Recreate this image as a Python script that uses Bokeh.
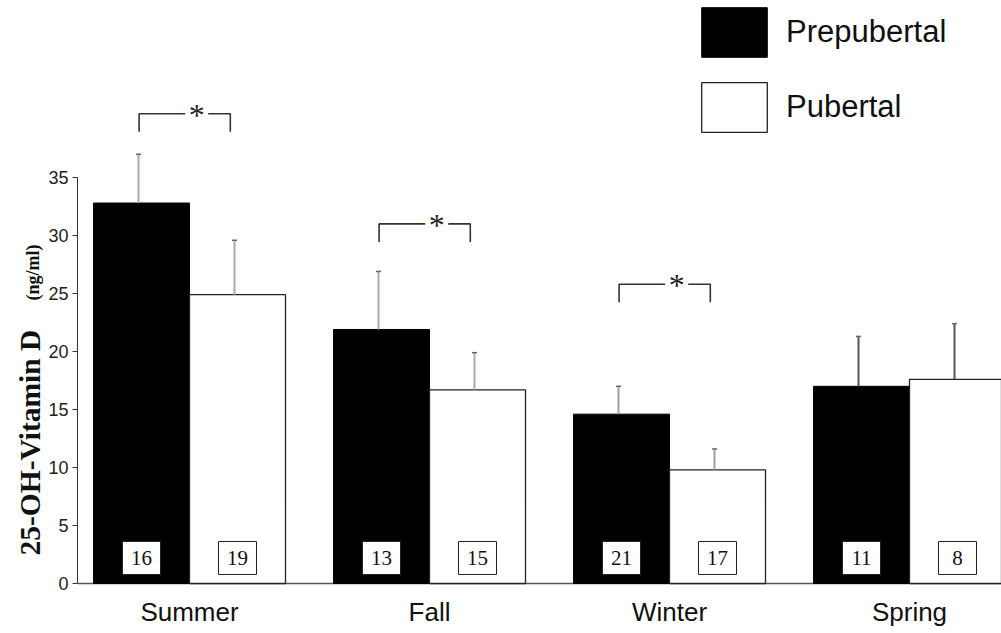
import math
from bokeh.plotting import figure
from bokeh.models import Range1d, FixedTicker, Legend, LegendItem, ColumnDataSource
from bokeh.embed import file_html
from bokeh.resources import INLINE
from bokeh.core.properties import value

# ---------------- data ----------------
seasons = ["Summer", "Fall", "Winter", "Spring"]
prepubertal_mean = [32.8, 21.9, 14.6, 17.0]
prepubertal_err = [4.2, 5.0, 2.4, 4.3]
pubertal_mean = [24.9, 16.7, 9.8, 17.6]
pubertal_err = [4.7, 3.2, 1.8, 4.8]
prepubertal_n = [16, 13, 21, 11]
pubertal_n = [19, 15, 17, 8]
sig_groups = [0, 1, 2]            # seasons with a significant difference (*)
sig_level = [40.5, 31.0, 25.8]    # height of the bracket for each of them
y_ticks = [0, 5, 10, 15, 20, 25, 30, 35]

# ---------------- layout ----------------
W, H = 1001, 633
BORDER_B = 42
ZERO_PX = 583.0                  # page row of y = 0
FRAME_W = W
FRAME_H = H - BORDER_B
PX_PER_X = 240.0
PX_PER_Y = 11.6
x_start = -189.0 / PX_PER_X
x_end = x_start + FRAME_W / PX_PER_X
y_start = -(FRAME_H - ZERO_PX) / PX_PER_Y
y_end = y_start + FRAME_H / PX_PER_Y
BAR_W = 0.4
ERR_SHIFT = -0.0125
err_colors = ["#aaaaaa", "#aaaaaa", "#a0a0a0", "#555555"]

def px2x(px):
    return x_start + px / PX_PER_X

def py2y(py):
    return y_end - py / PX_PER_Y

p = figure(width=W, height=H, output_backend="svg", toolbar_location=None,
           x_range=Range1d(x_start, x_end), y_range=Range1d(y_start, y_end),
           min_border_left=0, min_border_right=0, min_border_top=0,
           min_border_bottom=BORDER_B, tools="")
p.outline_line_color = None
p.grid.visible = False
p.background_fill_color = "white"
p.border_fill_color = "white"

n = len(seasons)
idx = list(range(n))
pre_x = [i - BAR_W / 2 for i in idx]
pub_x = [i + BAR_W / 2 for i in idx]
AXIS_X = px2x(77)

# baseline
p.segment(x0=[AXIS_X], y0=[0], x1=[x_end], y1=[0], line_color="#555555", line_width=1.5)

pre_src = ColumnDataSource(dict(x=pre_x, top=prepubertal_mean))
pub_src = ColumnDataSource(dict(x=pub_x, top=pubertal_mean))
r_pre = p.vbar(x="x", top="top", bottom=0, width=BAR_W, source=pre_src,
               fill_color="black", line_color="black", line_width=1)
r_pub = p.vbar(x="x", top="top", bottom=0, width=BAR_W, source=pub_src,
               fill_color="white", line_color="#222222", line_width=1.3)

# one-sided error bars
ex = [x + ERR_SHIFT for x in pre_x] + [x + ERR_SHIFT for x in pub_x]
ey0 = prepubertal_mean + pubertal_mean
ey1 = [m + e for m, e in zip(prepubertal_mean, prepubertal_err)] + \
      [m + e for m, e in zip(pubertal_mean, pubertal_err)]
ecol = err_colors + err_colors
p.segment(x0=ex, y0=ey0, x1=ex, y1=ey1, line_color=ecol, line_width=2)
p.scatter(x=ex, y=ey1, marker="dash", size=5, line_color="#666666", line_width=1.5)

# n labels
nx = pre_x + pub_x
nt = [str(v) for v in prepubertal_n + pubertal_n]
box_y = [2.2] * len(nx)
p.rect(x=nx, y=box_y, width=38 / PX_PER_X, height=33 / PX_PER_Y,
       fill_color="white", line_color="#222222", line_width=1)
p.text(x=nx, y=box_y, text=nt, text_font=value("Liberation Serif"),
       text_font_size="21px", text_align="center", text_baseline="middle",
       text_color="#111111")

# significance brackets
DROP = 1.55
GAP = 0.048
lines_x, lines_y, star_x = [], [], []
for g, lvl in zip(sig_groups, sig_level):
    L = pre_x[g] - 0.01
    R = pub_x[g] - 0.03
    sx = (L + R) / 2 + 0.05
    star_x.append(sx)
    lines_x.append([L, L, sx - GAP]); lines_y.append([lvl - DROP, lvl, lvl])
    lines_x.append([sx + GAP, R, R]); lines_y.append([lvl, lvl, lvl - DROP])
p.multi_line(xs=lines_x, ys=lines_y, line_color="#333333", line_width=1.6)
p.text(x=star_x, y=sig_level, text=["*"] * len(star_x), text_font=value("Liberation Serif"),
       text_font_size="32px", text_align="center", text_baseline="middle",
       y_offset=1, text_color="#222222")

# legend (bar legend glyphs are drawn at 80% of the glyph box)
GW, GH, GAP_L = 82, 62, 13
legend = Legend(items=[LegendItem(label="Prepubertal", renderers=[r_pre]),
                       LegendItem(label="Pubertal", renderers=[r_pub])],
                location=(693, int(FRAME_H - 1 - (2 * GH + GAP_L))),
                padding=0, margin=0, spacing=GAP_L, glyph_width=GW, glyph_height=GH,
                label_standoff=11, label_text_font="Liberation Sans",
                label_text_font_size="31px", label_text_color="#111111",
                border_line_color=None, background_fill_alpha=0)
p.add_layout(legend)

# axes
xa = p.xaxis[0]
xa.ticker = FixedTicker(ticks=idx)
xa.major_label_overrides = {i: s for i, s in zip(idx, seasons)}
xa.axis_line_color = None
xa.major_tick_line_color = None
xa.minor_tick_line_color = None
xa.major_tick_out = 0
xa.major_tick_in = 0
xa.major_label_standoff = 5
xa.major_label_text_font = "Liberation Sans"
xa.major_label_text_font_size = "26px"
xa.major_label_text_color = "#111111"

ya = p.yaxis[0]
ya.fixed_location = AXIS_X
ya.ticker = FixedTicker(ticks=y_ticks)
ya.bounds = (0, 35)
ya.axis_line_color = "#333333"
ya.axis_line_width = 1
ya.major_tick_line_color = "#333333"
ya.major_tick_out = 5
ya.major_tick_in = 0
ya.minor_tick_line_color = None
ya.major_label_standoff = 4
ya.major_label_text_font = "Liberation Sans"
ya.major_label_text_font_size = "18px"
ya.major_label_text_color = "#222222"

# y title (two sizes, drawn as rotated text)
p.text(x=[px2x(29)], y=[py2y(555)], text=["25-OH-Vitamin D"], angle=math.pi / 2,
       text_font=value("Liberation Serif"), text_font_style="bold",
       text_font_size="29.5px", text_align="left", text_baseline="alphabetic",
       text_color="#111111")
p.text(x=[px2x(32)], y=[py2y(300)], text=["(ng/ml)"], angle=math.pi / 2,
       text_font=value("Liberation Serif"), text_font_style="bold",
       text_font_size="18px", text_align="left", text_baseline="alphabetic",
       text_color="#111111")

open("out.html", "w").write(file_html(p, INLINE))
